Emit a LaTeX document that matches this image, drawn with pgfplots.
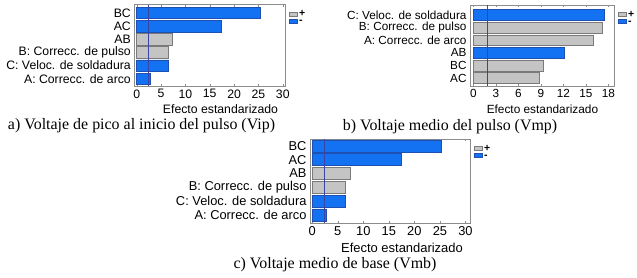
\documentclass[border=0pt]{standalone}
\usepackage{pgfplots}
\pgfplotsset{compat=1.18}
\usepackage{fontspec}
\setmainfont{Liberation Sans}
\newfontfamily\capfont{Liberation Serif}
\definecolor{barblue}{HTML}{1272F2}
\definecolor{edgeblue}{HTML}{1F4FB0}
\definecolor{bargray}{HTML}{C4C4C4}
\definecolor{edgegray}{HTML}{7A7A7A}
\definecolor{refline}{HTML}{3A44A8}
\definecolor{frame}{HTML}{8C8C8C}

% Vip / Vmb data (position 0 = bottom)
\pgfplotstableread{
y val
5 25.3
4 17.4
1 6.55
0 2.7
}\negA
\pgfplotstableread{
y val
3 7.35
2 6.55
}\posA
% Vmp data
\pgfplotstableread{
y val
5 17.45
2 12.15
}\negB
\pgfplotstableread{
y val
4 17.2
3 16.0
1 9.27
0 8.73
}\posB

\pgfplotsset{
  effstyle/.style={
    scale only axis,
    axis line style={frame, line width=0.6pt},
    tick style={frame},
    major tick length=2bp,
    tick align=inside,
    xtick pos=both,
    ytick pos=left,
    ytick={0,...,5},
    ytick style={draw=none},
    /pgf/number format/assume math mode=true,
    legend style={at={(1,1)}, anchor=north west, xshift=4bp, yshift=-6bp,
      draw=none, fill=none, inner sep=0pt, row sep=0pt,
      nodes={inner xsep=1.5bp, inner ysep=0.5bp, text height=5.5bp, text depth=0.5bp},
      font=\fontsize{10.5}{10.5}\selectfont\bfseries},
    legend cell align=left,
    legend image code/.code={\draw[##1, line width=0.5pt] (0bp,-2bp) rectangle (8bp,2bp);},
  },
  posbar/.style={xbar, bar shift=0pt, fill=bargray, draw=edgegray, line width=0.6pt},
  negbar/.style={xbar, bar shift=0pt, fill=barblue, draw=edgeblue, line width=0.6pt},
}

\begin{document}
\begin{tikzpicture}[x=1bp,y=1bp]
\path[use as bounding box] (0,0) rectangle (637,277);

% ---------- panel a ----------
\begin{axis}[effstyle,
  at={(134.3bp,191bp)}, anchor=south west,
  width=150.7bp, height=81.3bp,
  xmin=-0.49, xmax=30.45, ymin=-0.55, ymax=5.63,
  xtick={0,5,...,30},
  yticklabels={A: Correcc. de arco, C: Veloc. de soldadura, B: Correcc. de pulso, AB, AC, BC},
  ticklabel style={font=\fontsize{12.3}{12.3}\selectfont},
  xlabel={Efecto estandarizado},
  xlabel style={font=\fontsize{12.3}{12.3}\selectfont, at={(axis description cs:0.572,0)}, anchor=center, yshift=-23bp},
]
\addplot[posbar, bar width=11.5bp] table[x=val, y=y] {\posA};
\addlegendentry{+}
\addplot[negbar, bar width=11.5bp] table[x=val, y=y] {\negA};
\addlegendentry{-}
\addplot[refline, line width=0.7pt, forget plot] coordinates {(2.36,-0.55) (2.36,5.63)};
\end{axis}

% ---------- panel b ----------
\begin{axis}[effstyle,
  at={(470bp,191bp)}, anchor=south west,
  width=144bp, height=81bp,
  xmin=-0.45, xmax=18.75, ymin=-0.63, ymax=5.8,
  xtick={0,3,...,18},
  yticklabels={AC, BC, AB, A: Correcc. de arco, B: Correcc. de pulso, C: Veloc. de soldadura},
  ticklabel style={font=\fontsize{11.8}{11.8}\selectfont},
  xlabel={Efecto estandarizado},
  xlabel style={font=\fontsize{11.9}{11.9}\selectfont, at={(axis description cs:0.503,0)}, anchor=center, yshift=-23bp},
]
\addplot[posbar, bar width=10.8bp] table[x=val, y=y] {\posB};
\addlegendentry{+}
\addplot[negbar, bar width=10.8bp] table[x=val, y=y] {\negB};
\addlegendentry{-}
\addplot[refline, line width=0.7pt, forget plot] coordinates {(1.9,-0.63) (1.9,5.8)};
\end{axis}

% ---------- panel c ----------
\begin{axis}[effstyle,
  at={(310bp,54bp)}, anchor=south west,
  width=160bp, height=84bp,
  xmin=-0.45, xmax=30.9, ymin=-0.58, ymax=5.5,
  xtick={0,5,...,30},
  yticklabels={A: Correcc. de arco, C: Veloc. de soldadura, B: Correcc. de pulso, AB, AC, BC},
  ticklabel style={font=\fontsize{12.9}{12.9}\selectfont},
  xlabel={Efecto estandarizado},
  xlabel style={font=\fontsize{13}{13}\selectfont, at={(axis description cs:0.575,0)}, anchor=center, yshift=-25bp},
]
\addplot[posbar, bar width=12bp] table[x=val, y=y] {\posA};
\addlegendentry{+}
\addplot[negbar, bar width=12bp] table[x=val, y=y] {\negA};
\addlegendentry{-}
\addplot[refline, line width=0.7pt, forget plot] coordinates {(2.36,-0.58) (2.36,5.5)};
\end{axis}

% ---------- captions ----------
\node[font=\capfont\fontsize{16}{16}\selectfont, anchor=center] at (141.5,151) {a) Voltaje de pico al inicio del pulso (Vip)};
\node[font=\capfont\fontsize{16}{16}\selectfont, anchor=center] at (450,150) {b) Voltaje medio del pulso (Vmp)};
\node[font=\capfont\fontsize{16}{16}\selectfont, anchor=center] at (335,12) {c) Voltaje medio de base (Vmb)};
\end{tikzpicture}
\end{document}
